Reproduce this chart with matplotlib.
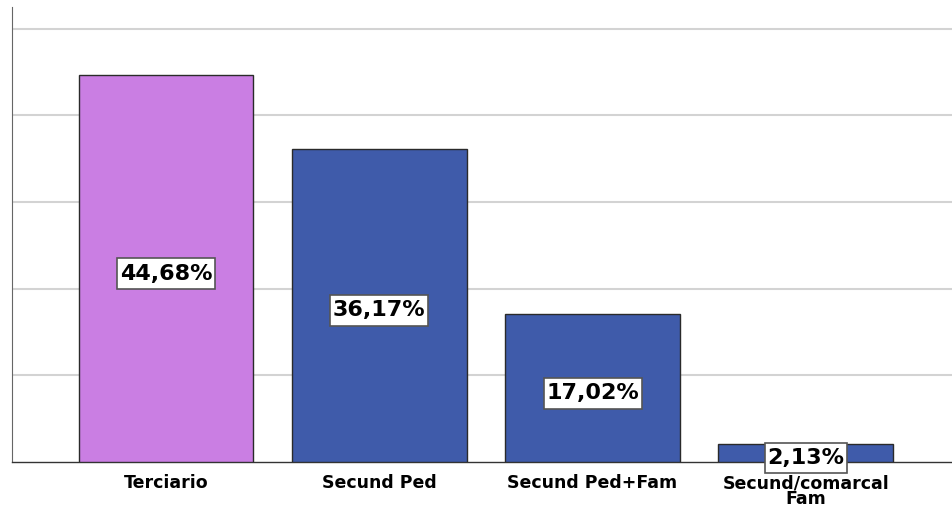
import matplotlib.pyplot as plt
from matplotlib.path import Path
import numpy as np

categories = ["Terciario", "Secund Ped", "Secund Ped+Fam", "Secund/comarcal\nFam"]
percentages = [44.68, 36.17, 17.02, 2.13]
bar_colors = ["#CA7EE3", "#3F5BAA", "#3F5BAA", "#3F5BAA"]

plt.rcParams["font.family"] = ["DejaVu Sans"]


def label_box(x0, y0, width, height, mutation_size):
    # rectangle with a little more padding above/below than at the sides
    px = 0.12 * mutation_size
    py = 0.24 * mutation_size
    x0, x1 = x0 - px, x0 + width + px
    y0, y1 = y0 - py, y0 + height + py
    return Path([(x0, y0), (x1, y0), (x1, y1), (x0, y1), (x0, y0)],
                closed=True)


fig = plt.figure(figsize=(9.53, 5.15), dpi=100)
W, H = 953, 515
ax = fig.add_axes([12 / W, 1 - 462 / H, (953 - 12) / W, (462 - 7) / H])

x = np.arange(len(categories))
ax.bar(x, percentages, width=0.82, color=bar_colors,
       edgecolor="#2a2a2a", linewidth=1.0, zorder=3)

for xi, v in zip(x, percentages):
    ax.text(xi, v / 2 - 0.6, f"{v:.2f}%".replace(".", ","),
            ha="center", va="center", fontsize=16, fontweight="bold",
            color="black", zorder=5,
            bbox=dict(boxstyle=label_box, facecolor="white",
                      edgecolor="#555555", linewidth=1.2))

ax.set_xlim(-0.722, 3.69)
ax.set_ylim(0, 52.5)
ax.set_yticks([10, 20, 30, 40, 50])
ax.yaxis.grid(True, color="#D3D3D3", linewidth=1.5, zorder=0)
ax.set_yticklabels([])
ax.tick_params(axis="y", length=0)
ax.set_xticks(x)
ax.set_xticklabels(categories, fontsize=12.5, fontweight="bold", linespacing=0.85)
ax.tick_params(axis="x", length=0, pad=9)

for s in ["top", "right"]:
    ax.spines[s].set_visible(False)
ax.spines["left"].set_color("#666666")
ax.spines["bottom"].set_color("#333333")
ax.spines["bottom"].set_linewidth(1.0)

fig.savefig("out.png", dpi=100)
